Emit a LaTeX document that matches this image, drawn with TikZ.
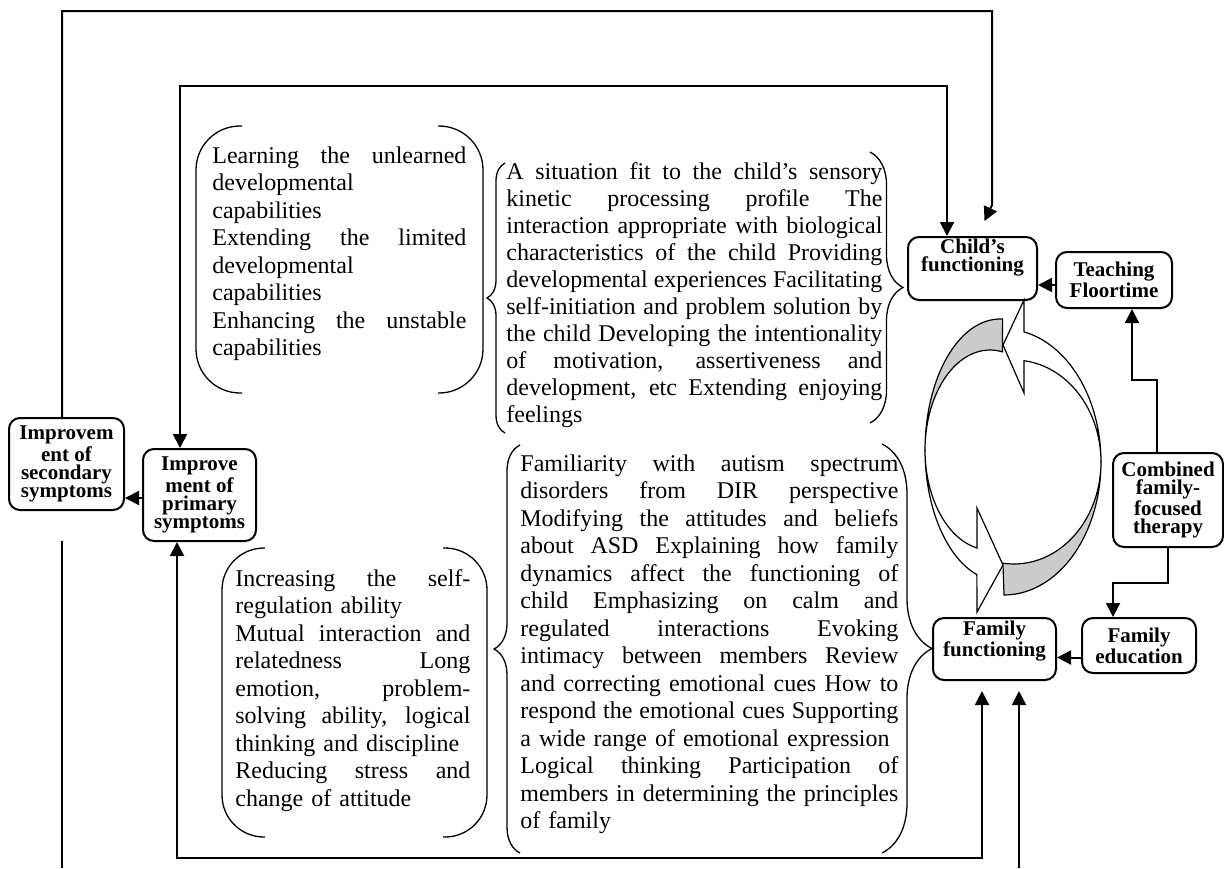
\documentclass[tikz,border=0pt]{standalone}
\usepackage{fontspec}
\setmainfont{Liberation Serif}
\usetikzlibrary{arrows.meta}
\usetikzlibrary{decorations.pathreplacing}

\definecolor{bandgray}{gray}{0.8}
\newlength{\jw}
\newcommand{\jl}[1]{\makebox[\jw][s]{\spaceskip=0pt\xspaceskip=0pt #1}\\}

\tikzset{
  sbox/.style={draw, line width=1pt, rounded corners=5.5pt, inner sep=0pt,
    align=center, font=\fontsize{10.5pt}{9pt}\selectfont\bfseries},
  txt/.style={anchor=north west, inner sep=0pt, align=left, text width=#1,
    font=\fontsize{12pt}{13.75pt}\selectfont,
    execute at begin node={\setlength{\jw}{#1}}},
  conn/.style={line width=1pt},
  brk/.style={line width=0.65pt},
  brc/.style={line width=0.65pt, decorate, decoration={brace, amplitude=#1}},
  band/.style={line width=0.6pt},
  >={Triangle[length=7pt,width=7pt]}
}

\begin{document}
\begin{tikzpicture}[x=0.5pt,y=-0.5pt]
  \useasboundingbox (0,0) rectangle (1224,868);

  % boxes
  \node[sbox, minimum width=57.5pt, minimum height=46pt] (sec) at (66.5,464)
    {Improvem\\ent of\\secondary\\symptoms};
  \node[sbox, minimum width=56.5pt, minimum height=46pt] (pri) at (199.5,495)
    {Improve\\ment of\\primary\\symptoms};
  \node[sbox, minimum width=64.5pt, minimum height=31.5pt] (cf) at (972.5,268.5)
    {Child’s\\functioning\\[4.3pt]\mbox{}};
  \node[sbox, minimum width=58pt, minimum height=28pt] (tf) at (1114,280)
    {Teaching\\Floortime};
  \node[sbox, minimum width=55pt, minimum height=47pt] (cft) at (1168,500)
    {Combined\\family-\\focused\\therapy};
  \node[sbox, minimum width=61.5pt, minimum height=31pt] (ff) at (994.5,649)
    {Family\\functioning\\[1.3pt]\mbox{}};
  \node[sbox, minimum width=57pt, minimum height=27.5pt] (fe) at (1139,645.5)
    {Family\\education};

  % texts
  \node[txt=127pt] (learn) at (212,146) {%
    \jl{Learning the unlearned}
    developmental\\
    capabilities\\
    \jl{Extending the limited}
    developmental\\
    capabilities\\
    \jl{Enhancing the unstable}
    capabilities};
  \node[txt=188pt, font=\fontsize{12pt}{13.5pt}\selectfont] (sit) at (506,162) {%
    \jl{A situation fit to the child’s sensory}
    \jl{kinetic processing profile The}
    \jl{interaction appropriate with biological}
    \jl{characteristics of the child Providing}
    \jl{developmental experiences Facilitating}
    \jl{self-initiation and problem solution by}
    \jl{the child Developing the intentionality}
    \jl{of motivation, assertiveness and}
    \jl{development, etc Extending enjoying}
    feelings};
  \node[txt=189pt] (fam) at (520,454) {%
    \jl{Familiarity with autism spectrum}
    \jl{disorders from DIR perspective}
    \jl{Modifying the attitudes and beliefs}
    \jl{about ASD Explaining how family}
    \jl{dynamics affect the functioning of}
    \jl{child Emphasizing on calm and}
    \jl{regulated interactions Evoking}
    \jl{intimacy between members Review}
    \jl{and correcting emotional cues How to}
    \jl{respond the emotional cues Supporting}
    a wide range of emotional expression\\
    \jl{Logical thinking Participation of}
    \jl{members in determining the principles}
    of family};
  \node[txt=117.5pt] (incr) at (235,569) {%
    \jl{Increasing the self-}
    regulation ability\\
    \jl{Mutual interaction and}
    \jl{relatedness Long}
    \jl{emotion, problem-}
    \jl{solving ability, logical}
    thinking and discipline\\
    \jl{Reducing stress and}
    change of attitude};

  % brackets and braces
  \draw[brk, rounded corners=22pt] (242,126) -| (196,393) -- (242,393);
  \draw[brk, rounded corners=22pt] (438,126) -| (483,393) -- (438,393);
  \draw[brk, rounded corners=21pt] (265,548) -| (222,837) -- (265,837);
  \draw[brk, rounded corners=21pt] (443,548) -| (487,837) -- (443,837);
  \draw[brc=9pt] (505,433) -- (505,163);
  \draw[brc=16.5pt] (870,152) -- (870,423);
  \draw[brc=13pt] (520,853) -- (520,445);
  \draw[brc=25pt] (882,444) -- (882,853);

  % cycle arrows
  \filldraw[band, fill=bandgray]
    plot[domain=88:180, samples=30] ({1000+75*cos(\x)},{450-131*sin(\x)})
    -- plot[domain=180:79, samples=30] ({990+65*cos(\x)},{450-100*sin(\x)}) -- cycle;
  \filldraw[band, fill=white]
    plot[domain=180:252, samples=30] ({1000+75*cos(\x)},{450-131*sin(\x)})
    -- (977,612) -- (1003,565) -- (977,508)
    -- plot[domain=258.5:180, samples=30] ({990+65*cos(\x)},{450-100*sin(\x)}) -- cycle;
  \filldraw[band, fill=bandgray]
    plot[domain=-90:0, samples=30] ({1004+97*cos(\x)},{462-133*sin(\x)})
    -- plot[domain=0:-97.3, samples=30] ({1014+87*cos(\x)},{462-102*sin(\x)}) -- cycle;
  \filldraw[band, fill=white]
    plot[domain=0:78.1, samples=30] ({1004+97*cos(\x)},{462-133*sin(\x)})
    -- (1024,300) -- (1003,345) -- (1024,393)
    -- plot[domain=83.4:0, samples=30] ({1014+87*cos(\x)},{462-102*sin(\x)}) -- cycle;

  % connectors
  \coordinate (secup) at ([xshift=-2.25pt]sec.north);
  \coordinate (secdown) at ([xshift=-2.25pt,yshift=-15pt]sec.south);
  \coordinate (priin) at ([xshift=-9.75pt]pri.north);
  \coordinate (priup) at ([xshift=-11.25pt]pri.south);
  \coordinate (cfin) at ([xshift=-12.75pt]cf.north);
  \coordinate (cfout) at ([xshift=6pt,yshift=7.5pt]cf.north);
  \coordinate (ffin) at ([xshift=-6.25pt,yshift=-5pt]ff.south);
  \coordinate (ffdown) at ([xshift=12.25pt,yshift=-5pt]ff.south);
  \draw[conn, ->] (secup) -- (secup |- 0,11) -- (992,11) -- (992,205) -- (cfout);
  \draw[conn, <->] (priin) -- (priin |- 0,86) -- (cfin |- 0,86) -- (cfin);
  \draw[conn] (secdown) -- (secdown |- 0,868);
  \draw[conn, ->] (ffdown |- 0,868) -- (ffdown);
  \draw[conn, <->] (priup) -- (priup |- 0,858) -- (ffin |- 0,858) -- (ffin);
  \draw[conn, ->] ([yshift=-1.5pt]pri.west) -- ([yshift=-1.5pt]pri.west -| sec.east);
  \coordinate (tfw) at ([yshift=-2.5pt]tf.west);
  \draw[conn, ->] (tfw) -- (tfw -| cf.east);
  \coordinate (few) at ([yshift=-6pt]fe.west);
  \draw[conn, ->] (few) -- (few -| ff.east);
  \coordinate (cftn) at ([xshift=-5.5pt]cft.north);
  \coordinate (tfs) at ([xshift=9pt]tf.south);
  \draw[conn, ->] (cftn) -- (cftn |- 0,380) -| (tfs);
  \coordinate (fen) at ([xshift=-13pt]fe.north);
  \draw[conn, ->] (cft.south) -- (cft.south |- 0,583) -| (fen);
\end{tikzpicture}
\end{document}
